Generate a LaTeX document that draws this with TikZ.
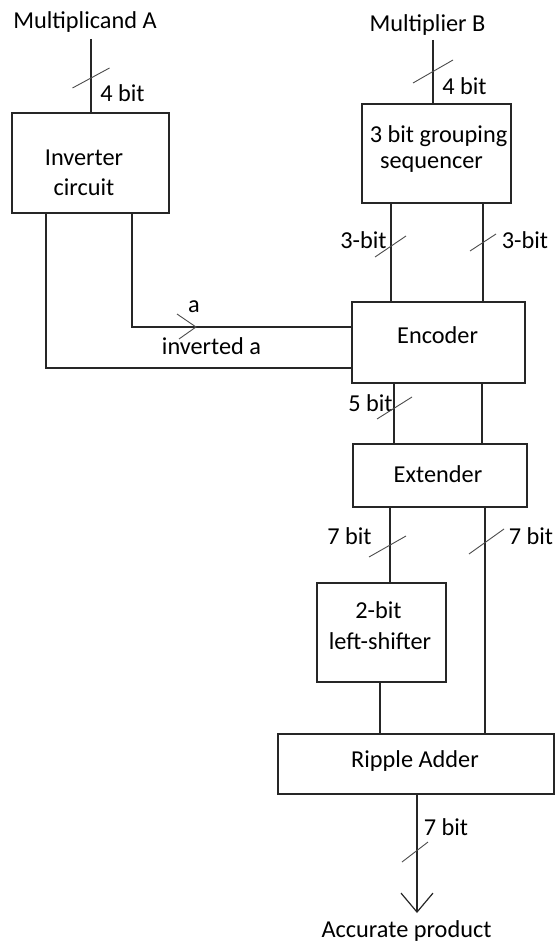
\documentclass[tikz,border=0pt]{standalone}
\usepackage{fontspec}
\setmainfont{Carlito}
\usetikzlibrary{arrows.meta}
% short slash across a bus line: #1 = point on the line, (#2,#3) = half-extent
\newcommand\busslash[3]{\draw[busline] ([shift={(-#2,#3)}]#1) -- ([shift={(#2,-#3)}]#1);}
\begin{document}
\begin{tikzpicture}[x=1pt,y=-1pt,
  font=\fontsize{24.3}{29}\selectfont,
  wire/.style={line width=1.5pt, black!85},
  blk/.style={draw, line width=1.5pt, black!85, inner sep=0pt, rectangle},
  busline/.style={line width=0.9pt, black!70},
  lbl/.style={inner sep=0pt, anchor=base, text=black},
]
\useasboundingbox (0,0) rectangle (555,944);

% functional blocks
\node[blk, minimum width=157pt, minimum height=100pt] (inv) at (90.5,163) {};
\node[blk, minimum width=149pt, minimum height=99pt]  (grp) at (436.5,153.5) {};
\node[blk, minimum width=173pt, minimum height=81pt]  (enc) at (438.5,342.5) {};
\node[blk, minimum width=174pt, minimum height=63pt]  (ext) at (440,475.5) {};
\node[blk, minimum width=129pt, minimum height=99pt]  (shf) at (381.5,632.5) {};
\node[blk, minimum width=276pt, minimum height=60pt]  (rip) at (416,764) {};

% block captions
\node[lbl] (invT1) at (84,165) {Inverter};
\node[lbl] (invT2) at (84,195) {circuit};
\node[lbl] (grpT1) at (438.5,143) {3 bit grouping};
\node[lbl] (grpT2) at (431.5,169) {sequencer};
\node[lbl] (encT)  at (437.6,343) {Encoder};
\node[lbl] (extT)  at (438,482) {Extender};
\node[lbl] (shfT1) at (378.5,618) {2-bit};
\node[lbl] (shfT2) at (380,649) {left-shifter};
\node[lbl] (ripT)  at (415,767) {Ripple Adder};

% inputs and output
\node[lbl] (mA)  at (85,29) {Multiplicand A};
\node[lbl] (mB)  at (427.5,31.5) {Multiplier B};
\node[lbl] (res) at (406.5,937.5) {Accurate product};
\coordinate (inA) at (91,39);
\coordinate (inB) at (433,40);
\coordinate (out) at (417,913);

% bus widths and signal names
\node[lbl] (wA)   at (122.5,102) {4 bit};
\node[lbl] (wB)   at (464.5,95) {4 bit};
\node[lbl] (wG1)  at (363.5,248) {3-bit};
\node[lbl] (wG2)  at (525,248) {3-bit};
\node[lbl] (sa)   at (194,312) {a};
\node[lbl] (sna)  at (211.5,354) {inverted a};
\node[lbl] (wE)   at (370.5,411) {5 bit};
\node[lbl] (wX1)  at (349.5,544) {7 bit};
\node[lbl] (wX2)  at (531,544) {7 bit};
\node[lbl] (wR)   at (446,835) {7 bit};

% connections
\draw[wire] (inA) -- (inA |- inv.north);
\draw[wire] (inB) -- (inB |- grp.north);
\draw[wire] (grp.south -| 391,0) -- (enc.north -| 391,0);
\draw[wire] (grp.south -| 483,0) -- (enc.north -| 483,0);
\draw[wire] (inv.south -| 132,0) |- (enc.west |- 0,327);
\draw[wire] (inv.south -| 46,0)  |- (enc.west |- 0,368);
\draw[wire] (enc.south -| 394,0) -- (ext.north -| 394,0);
\draw[wire] (enc.south -| 482,0) -- (ext.north -| 482,0);
\draw[wire] (ext.south -| 390,0) -- (shf.north -| 390,0);
\draw[wire] (ext.south -| 485,0) -- (rip.north -| 485,0);
\draw[wire] (shf.south -| 380,0) -- (rip.north -| 380,0);
\draw[wire, -{Straight Barb[length=19pt, width=32pt, line width=1.2pt]}] (rip.south -| out) -- (out);

% direction mark on signal a
\coordinate (amark) at (196,327);
\draw[busline] ([shift={(-19,-13)}]amark) -- (amark) -- ([shift={(-17,12)}]amark);

% bus slashes
\busslash{91,78}{18.5}{10}
\busslash{433,71.5}{20}{11.5}
\busslash{390.5,246.5}{15.5}{10.5}
\busslash{483,242.5}{13}{8.5}
\busslash{394.5,408}{17.5}{11}
\busslash{387.5,546.5}{18.5}{10.5}
\busslash{486.5,541.5}{17.5}{12.5}
\busslash{415,852}{13}{10}
\end{tikzpicture}
\end{document}
